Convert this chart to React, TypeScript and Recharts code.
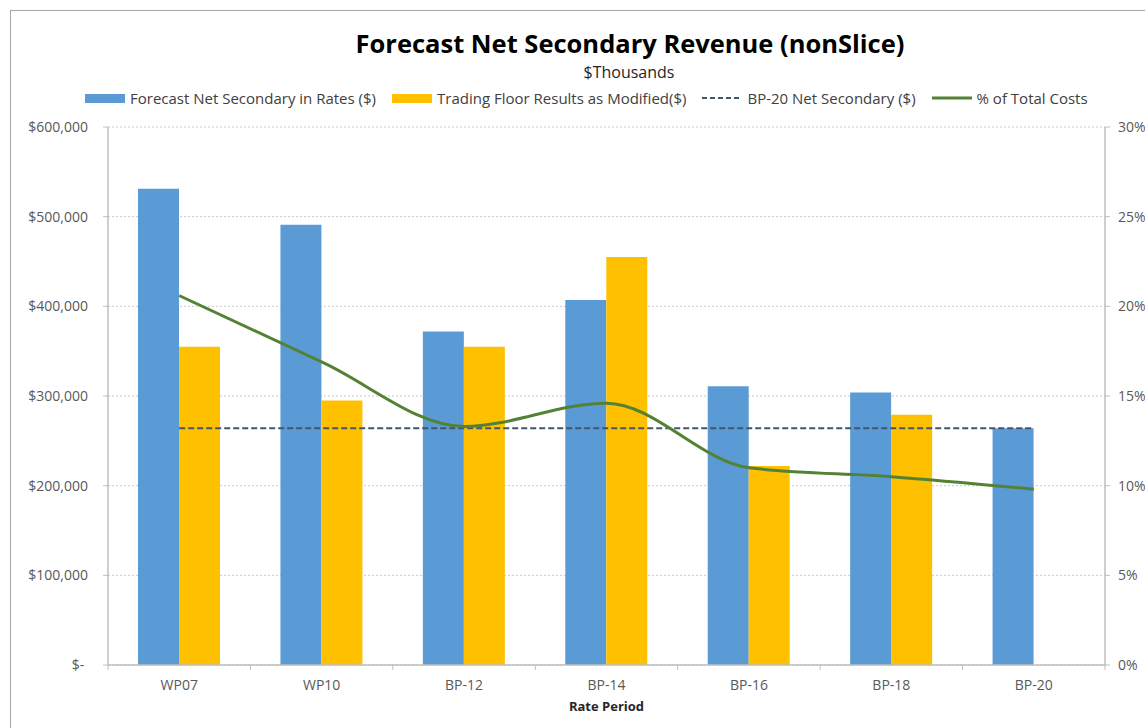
import { Bar, CartesianGrid, ComposedChart, Line, XAxis, YAxis } from "recharts";

// Rate periods and values ($ thousands, % of total costs)
const periods = ["WP07", "WP10", "BP-12", "BP-14", "BP-16", "BP-18", "BP-20"];
const forecastInRates = [531000, 491000, 372000, 407000, 311000, 304000, 264000];
const tradingFloor = [355000, 295000, 355000, 455000, 222000, 279000, null];
const bp20NetSecondary = [264000, 264000, 264000, 264000, 264000, 264000, 264000];
const pctOfTotalCosts = [0.206, 0.169, 0.133, 0.146, 0.11, 0.105, 0.098];

const leftTicks = [0, 100000, 200000, 300000, 400000, 500000, 600000];
const rightTicks = [0, 0.05, 0.1, 0.15, 0.2, 0.25, 0.3];

const chartData = periods.map((period, i) => ({
  period,
  forecast: forecastInRates[i],
  trading: tradingFloor[i],
  bp20: bp20NetSecondary[i],
  pct: pctOfTotalCosts[i],
}));

const CHART_W = 1200;
const CHART_H = 728;
const MARGIN = { top: 127, right: 35, bottom: 23, left: 18 };
const LEFT_AXIS_W = 90;
const RIGHT_AXIS_W = 60;
const BAND =
  (CHART_W - MARGIN.left - MARGIN.right - LEFT_AXIS_W - RIGHT_AXIS_W) /
  periods.length;

const AXIS_GREY = "#bfbfbf";
const TICK_FONT = { fontFamily: "'Open Sans', sans-serif", fontSize: 14, fill: "#595959" };

const formatDollars = (v: number) =>
  v === 0 ? "$-\u00a0" : "$" + v.toLocaleString("en-US");
const formatPct = (v: number) => `${Math.round(v * 100)}%`;

function PeriodTick(props: any) {
  const { x, y, payload, index } = props;
  const last = index === periods.length - 1;
  return (
    <g>
      <line x1={x - BAND / 2} x2={x - BAND / 2} y1={y} y2={y + 5} stroke={AXIS_GREY} />
      {last && (
        <line x1={x + BAND / 2} x2={x + BAND / 2} y1={y} y2={y + 5} stroke={AXIS_GREY} />
      )}
      <text x={x} y={y + 25} textAnchor="middle" {...TICK_FONT}>
        {payload.value}
      </text>
    </g>
  );
}

const legendItems = [
  { label: "Forecast Net Secondary in Rates ($)", color: "#5B9BD5", kind: "bar" },
  { label: "Trading Floor Results as Modified($)", color: "#FFC000", kind: "bar" },
  { label: "BP-20 Net Secondary ($)", color: "#44546A", kind: "dash" },
  { label: "% of Total Costs", color: "#548235", kind: "line" },
];

function LegendRow() {
  return (
    <div
      style={{
        position: "absolute",
        top: 88,
        left: 85,
        display: "flex",
        alignItems: "center",
        gap: 16,
        fontFamily: "'Open Sans', sans-serif",
        fontSize: 15,
        lineHeight: "20px",
        color: "#404040",
        whiteSpace: "nowrap",
      }}
    >
      {legendItems.map((item) => (
        <div key={item.label} style={{ display: "flex", alignItems: "center", gap: 5 }}>
          {item.kind === "bar" ? (
            <div style={{ width: 40, height: 9, background: item.color }} />
          ) : (
            <svg width={40} height={10}>
              <line
                x1={0}
                x2={40}
                y1={5}
                y2={5}
                stroke={item.color}
                strokeWidth={item.kind === "dash" ? 2 : 3}
                strokeDasharray={item.kind === "dash" ? "5 3" : undefined}
              />
            </svg>
          )}
          <span>{item.label}</span>
        </div>
      ))}
    </div>
  );
}

export default function App() {
  return (
    <div
      style={{
        position: "fixed",
        inset: 0,
        width: 1145,
        height: 728,
        overflow: "hidden",
        background: "#fff",
      }}
    >
      <div
        style={{
          position: "absolute",
          left: 10,
          top: 10,
          width: 1300,
          height: 900,
          border: "1.5px solid #a6a6a6",
        }}
      />
      <div
        style={{
          position: "absolute",
          top: 29,
          left: 0,
          width: 1260,
          textAlign: "center",
          fontFamily: "'Open Sans', sans-serif",
          fontWeight: 700,
          fontSize: 25.5,
          lineHeight: "28px",
          color: "#000",
        }}
      >
        Forecast Net Secondary Revenue (nonSlice)
      </div>
      <div
        style={{
          position: "absolute",
          top: 63,
          left: 0,
          width: 1258,
          textAlign: "center",
          fontFamily: "'Open Sans', sans-serif",
          fontSize: 16,
          lineHeight: "18px",
          color: "#262626",
        }}
      >
        $Thousands
      </div>
      <LegendRow />
      <div style={{ position: "absolute", left: 0, top: 0 }}>
        <ComposedChart
          width={CHART_W}
          height={CHART_H}
          data={chartData}
          margin={MARGIN}
          barGap={0}
        >
          <CartesianGrid
            yAxisId="left"
            vertical={false}
            stroke="#c8c8c8"
            strokeDasharray="2 2"
          />
          <XAxis
            dataKey="period"
            height={40}
            tickSize={0}
            tickMargin={0}
            tickLine={false}
            axisLine={{ stroke: AXIS_GREY, strokeWidth: 1.5 }}
            tick={<PeriodTick />}
            interval={0}
          />
          <YAxis
            yAxisId="left"
            width={LEFT_AXIS_W}
            domain={[0, 600000]}
            ticks={leftTicks}
            tickFormatter={formatDollars}
            tick={TICK_FONT}
            tickSize={5}
            tickMargin={15}
            tickLine={{ stroke: AXIS_GREY }}
            axisLine={{ stroke: AXIS_GREY, strokeWidth: 1.5 }}
          />
          <YAxis
            yAxisId="right"
            orientation="right"
            width={RIGHT_AXIS_W}
            domain={[0, 0.3]}
            ticks={rightTicks}
            tickFormatter={formatPct}
            tick={TICK_FONT}
            tickSize={5}
            tickMargin={8}
            tickLine={{ stroke: AXIS_GREY }}
            axisLine={{ stroke: AXIS_GREY, strokeWidth: 1.5 }}
          />
          <Bar
            yAxisId="left"
            dataKey="forecast"
            fill="#5B9BD5"
            barSize={41}
            isAnimationActive={false}
          />
          <Bar
            yAxisId="left"
            dataKey="trading"
            fill="#FFC000"
            barSize={41}
            isAnimationActive={false}
          />
          <Line
            yAxisId="left"
            dataKey="bp20"
            stroke="#44546A"
            strokeWidth={2}
            strokeDasharray="6 3"
            dot={false}
            isAnimationActive={false}
          />
          <Line
            yAxisId="right"
            type="monotone"
            dataKey="pct"
            stroke="#548235"
            strokeWidth={3}
            dot={false}
            isAnimationActive={false}
          />
        </ComposedChart>
      </div>
      <div
        style={{
          position: "absolute",
          top: 697,
          left: 108,
          width: 997,
          textAlign: "center",
          fontFamily: "'Open Sans', sans-serif",
          fontWeight: 700,
          fontSize: 13,
          lineHeight: "18px",
          color: "#262626",
        }}
      >
        Rate Period
      </div>
    </div>
  );
}
